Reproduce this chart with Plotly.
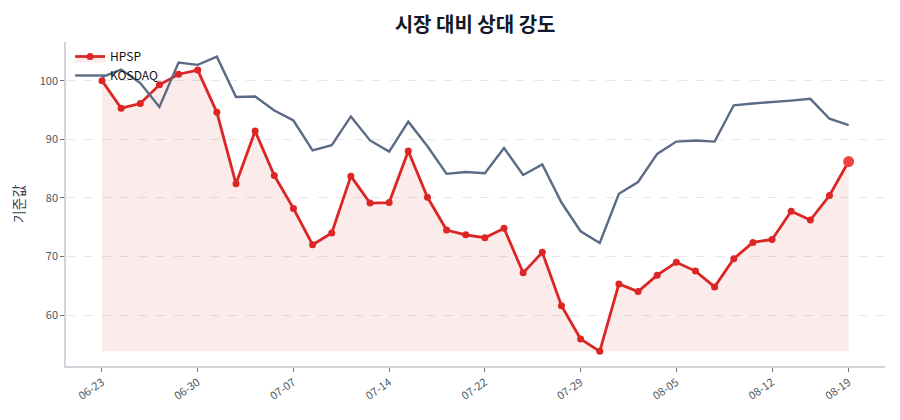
import plotly.graph_objects as go

# 거래일 (07-21, 08-15 제외)
dates = [
    "06-23", "06-24", "06-25", "06-26", "06-27",
    "06-30", "07-01", "07-02", "07-03", "07-04",
    "07-07", "07-08", "07-09", "07-10", "07-11",
    "07-14", "07-15", "07-16", "07-17", "07-18",
    "07-22", "07-23", "07-24", "07-25", "07-28",
    "07-29", "07-30", "07-31", "08-01", "08-04",
    "08-05", "08-06", "08-07", "08-08", "08-11",
    "08-12", "08-13", "08-14", "08-18", "08-19",
]

hpsp = [
    100.0, 95.3, 96.1, 99.3, 101.1, 101.8, 94.6, 82.4, 91.4, 83.8,
    78.2, 72.0, 74.0, 83.7, 79.1, 79.2, 88.0, 80.1, 74.5, 73.7,
    73.2, 74.8, 67.2, 70.7, 61.6, 55.9, 53.8, 65.3, 64.0, 66.8,
    69.0, 67.5, 64.8, 69.6, 72.4, 72.9, 77.7, 76.2, 80.4, 86.2,
]

kosdaq = [
    100.6, 101.9, 99.6, 95.5, 103.1, 102.7, 104.1, 97.2, 97.3, 94.9,
    93.2, 88.1, 89.0, 93.9, 89.8, 87.9, 93.0, 88.8, 84.1, 84.4,
    84.2, 88.5, 83.9, 85.7, 79.2, 74.3, 72.3, 80.7, 82.7, 87.5,
    89.6, 89.8, 89.6, 95.8, 96.1, 96.3, 96.6, 96.9, 93.5, 92.4,
]

tick_dates = ["06-23", "06-30", "07-07", "07-14", "07-22",
              "07-29", "08-05", "08-12", "08-19"]

RED = "#dc2626"
SLATE = "#5b6b85"
FONT = "Noto Sans CJK KR"

base = min(hpsp)

fig = go.Figure()

# 채움 영역 기준선 (최저값)
fig.add_trace(go.Scatter(
    x=dates, y=[base] * len(dates), mode="lines",
    line=dict(width=0, color="rgba(0,0,0,0)"),
    showlegend=False, hoverinfo="skip",
))
fig.add_trace(go.Scatter(
    x=dates, y=hpsp, mode="lines+markers", name="HPSP",
    line=dict(color=RED, width=2.8),
    marker=dict(color=RED, size=7),
    fill="tonexty", fillcolor="rgba(220,38,38,0.09)",
))
fig.add_trace(go.Scatter(
    x=dates, y=kosdaq, mode="lines", name="KOSDAQ",
    line=dict(color=SLATE, width=2.4),
))
# 마지막 값 강조
fig.add_trace(go.Scatter(
    x=[dates[-1]], y=[hpsp[-1]], mode="markers",
    marker=dict(color="#ef4444", size=11),
    showlegend=False,
))

fig.update_layout(
    width=900, height=420,
    margin=dict(l=58, r=23, t=34, b=62),
    paper_bgcolor="white", plot_bgcolor="white",
    font=dict(family=FONT, color="#374151"),
    title=dict(
        text="<b>시장 대비 상대 강도</b>",
        x=0.519, xanchor="center", y=0.959, yanchor="middle",
        font=dict(size=20, color="#111827", family=FONT),
    ),
    legend=dict(
        x=0.005, y=1.0, xanchor="left", yanchor="top",
        traceorder="normal",
        bgcolor="rgba(0,0,0,0)", font=dict(size=12, color="#111111"),
        tracegroupgap=0,
    ),
    showlegend=True,
)

fig.update_xaxes(
    type="category", categoryorder="array", categoryarray=dates,
    range=[-1.88, 40.9], automargin=False,
    tickmode="array", tickvals=tick_dates, ticktext=tick_dates,
    tickangle=-35, tickfont=dict(size=11, color="#4b5563"),
    showline=True, linecolor="#d1d5db", linewidth=1.5,
    ticks="outside", ticklen=4, tickcolor="#6b7280",
    showgrid=False, zeroline=False,
)
fig.update_yaxes(
    range=[51.3, 106.6], automargin=False,
    tickvals=[60, 70, 80, 90, 100],
    tickfont=dict(size=11, color="#4b5563"),
    title=dict(text="기준값", font=dict(size=14, color="#374151"), standoff=14),
    showline=True, linecolor="#d1d5db", linewidth=1.5,
    ticks="outside", ticklen=4, tickcolor="#6b7280",
    showgrid=True, gridcolor="#e5e7eb", griddash="dash", gridwidth=1,
    zeroline=False,
)

fig.write_html("out.html")
